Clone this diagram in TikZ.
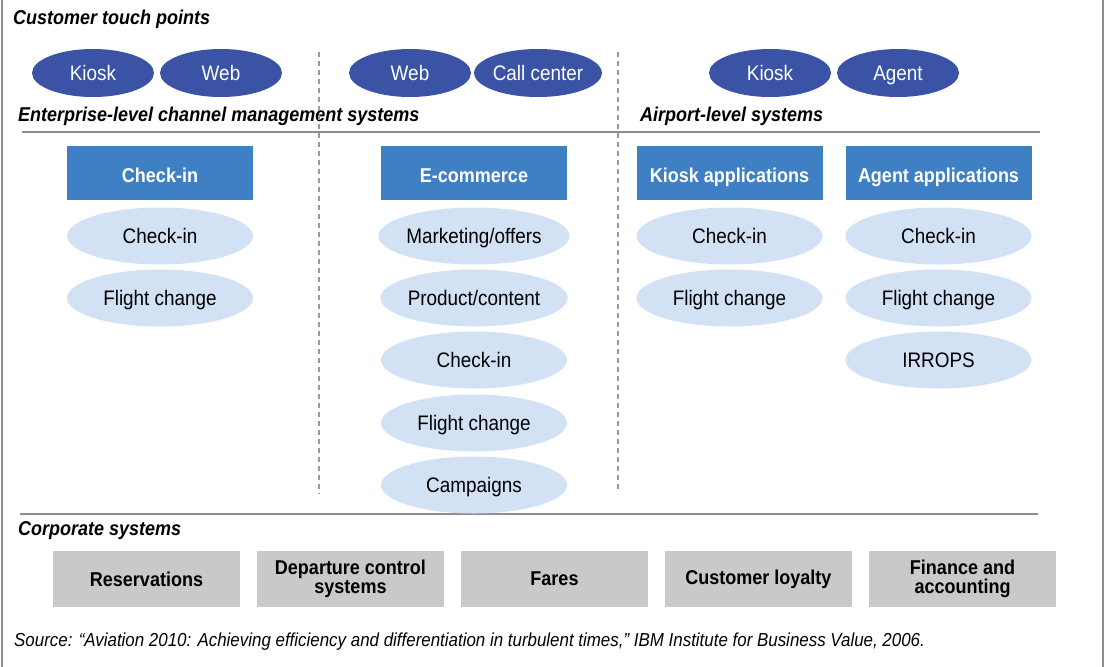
\documentclass[tikz,border=0pt]{standalone}
\usepackage{fontspec}
\setmainfont{Liberation Sans}[FakeStretch=0.9]
\usetikzlibrary{shapes.geometric,positioning}
\definecolor{touchblue}{HTML}{3A53A4}
\definecolor{appblue}{HTML}{3F7FC3}
\definecolor{funcblue}{HTML}{D3E1F4}
\definecolor{corpgray}{HTML}{C8C9CB}
\definecolor{rulegray}{HTML}{8E8E8E}
\newcommand{\bigtext}{\fontsize{21}{18}\selectfont}
\newcommand{\boldtext}{\fontsize{20}{19}\selectfont\bfseries}
\tikzstyle{touch}=[shape=ellipse, fill=touchblue, text=white, font=\bigtext, minimum width=122pt, minimum height=48pt, inner sep=0pt, text height=19pt, text depth=4pt]
\tikzstyle{app}=[shape=rectangle, fill=appblue, text=white, font=\boldtext, minimum width=186pt, minimum height=54pt, inner sep=0pt, text height=22pt, text depth=4pt]
\tikzstyle{func}=[shape=ellipse, fill=funcblue, font=\bigtext, minimum width=186pt, minimum height=57pt, inner sep=0pt, text height=19pt, text depth=4pt]
\tikzstyle{corp}=[shape=rectangle, fill=corpgray, font=\boldtext, minimum width=187pt, minimum height=56pt, inner sep=0pt, align=center]
\tikzstyle{hdr}=[anchor=west, font=\boldtext\itshape, inner sep=0pt]
\tikzstyle{sep}=[draw=rulegray, line width=1.2pt]
\tikzstyle{divider}=[draw=rulegray!90, line width=2pt, dash pattern=on 5pt off 4pt]

\begin{document}
\begin{tikzpicture}[x=1pt,y=-1pt]
\useasboundingbox (0,0) rectangle (1112,667);
\draw[sep] (2,0) -- (2,667);
\draw[sep] (1103,0) -- (1103,667);

% headings
\node (hcust) [hdr] at (13,19) {Customer touch points};
\node (hent) [hdr] at (18,116) {Enterprise-level channel management systems};
\node (hair) [hdr] at (640,116) {Airport-level systems};
\node (hcorp) [hdr] at (18,531) {Corporate systems};

% touch points
\node (tkiosk1) [touch] at (93,73) {Kiosk};
\node (tweb1) [touch] at (221,73) {Web};
\node (tweb2) [touch] at (410,73) {Web};
\node (tcall) [touch] at (538,73) {Call center};
\node (tkiosk2) [touch] at (770,73) {Kiosk};
\node (tagent) [touch] at (898,73) {Agent};

\draw[divider] (319,52) -- (319,494);
\draw[divider] (618,52) -- (618,490);
\draw[sep] (22,132) -- (1040,132);
\draw[sep] (20,514) -- (1038,514);

% channel systems
\node (checkin) [app] at (160,173) {Check-in};
\node (ci1) [func] at (160,236) {Check-in};
\node (fc1) [func] at (160,298) {Flight change};

\node (ecom) [app] at (474,173) {E-commerce};
\node (mkt) [func] at (474,236) {Marketing/offers};
\node (prod) [func] at (474,298) {Product/content};
\node (ci2) [func] at (474,360) {Check-in};
\node (fc2) [func] at (474,423) {Flight change};
\node (camp) [func] at (474,485) {Campaigns};

\node (kioskapp) [app] at (729.5,173) {Kiosk applications};
\node (ci3) [func] at (729.5,236) {Check-in};
\node (fc3) [func] at (729.5,298) {Flight change};

\node (agentapp) [app] at (938.5,173) {Agent applications};
\node (ci4) [func] at (938.5,236) {Check-in};
\node (fc4) [func] at (938.5,298) {Flight change};
\node (irr) [func] at (938.5,360) {IRROPS};

% corporate systems
\node (res) [corp] at (146.5,579) {Reservations};
\node (dcs) [corp] at (350.5,579) {Departure control\\systems};
\node (fares) [corp] at (554.5,579) {Fares};
\node (loyal) [corp] at (758.5,579) {Customer loyalty};
\node (fin) [corp] at (962.5,579) {Finance and\\accounting};

\node (src) [anchor=west, inner sep=0pt, font=\fontsize{18.8}{19}\selectfont\itshape] at (14,642) {Source: ``Aviation 2010: Achieving efficiency and differentiation in turbulent times,'' IBM Institute for Business Value, 2006.};
\end{tikzpicture}
\end{document}
